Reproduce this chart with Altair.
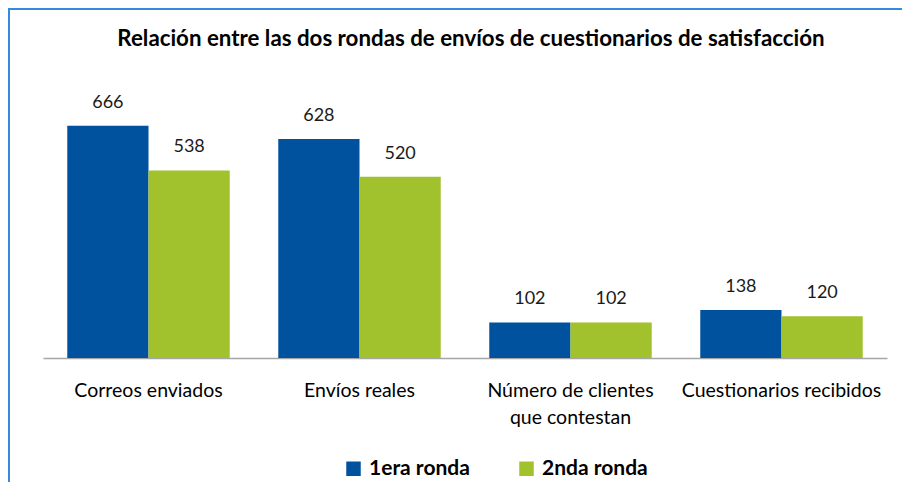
import altair as alt
import pandas as pd

categories = ["Correos enviados", "Envíos reales", "Número de clientes que contestan", "Cuestionarios recibidos"]
series = ["1era ronda", "2nda ronda"]
ronda1 = [666, 628, 102, 138]
ronda2 = [538, 520, 102, 120]
colors = ["#00529F", "#A1C12D"]

rows = []
for c, a, b in zip(categories, ronda1, ronda2):
    rows.append({"cat": c, "serie": series[0], "val": a})
    rows.append({"cat": c, "serie": series[1], "val": b})
df = pd.DataFrame(rows)

W, H = 844, 244
FONT = "Lato"

base = alt.Chart(df).encode(
    x=alt.X("cat:N", sort=categories, title=None,
            scale=alt.Scale(paddingInner=0.23, paddingOuter=0.115),
            axis=alt.Axis(labelAngle=0, ticks=False, domainColor="#A6A6A6", domainWidth=1.5,
                          labelFont=FONT, labelFontSize=19.5, labelColor="#000000",
                          labelPadding=23, labelLineHeight=27, labelLimit=400,
                          labelExpr="datum.label == 'Número de clientes que contestan' ? ['Número de clientes', 'que contestan'] : datum.label")),
    xOffset=alt.XOffset("serie:N", sort=series, scale=alt.Scale(paddingInner=0, paddingOuter=0)),
    y=alt.Y("val:Q", scale=alt.Scale(domain=[0, 700]), axis=None),
)

bars = base.mark_bar().encode(
    color=alt.Color("serie:N", sort=series, scale=alt.Scale(domain=series, range=colors),
                    legend=alt.Legend(title=None, orient="none", direction="horizontal",
                                      legendX=300, legendY=344, padding=0,
                                      symbolType="square", symbolSize=210, symbolStrokeWidth=0,
                                      symbolOpacity=1, labelFont=FONT, labelFontSize=21,
                                      labelFontWeight="bold", labelColor="#000000",
                                      labelOffset=5, columnPadding=46))
)

text = base.mark_text(baseline="alphabetic", dy=-18, font=FONT, fontSize=18, color="#1a1a1a").encode(
    text="val:Q"
)

border = alt.Chart(alt.Data(values=[{}])).mark_rule(color="#3A87E0", strokeWidth=2).encode(
    x=alt.value(-34), y=alt.value(-106), y2=alt.value(H + 130)
)
border_top = alt.Chart(alt.Data(values=[{}])).mark_rule(color="#3A87E0", strokeWidth=2).encode(
    x=alt.value(-35), x2=alt.value(W + 60), y=alt.value(-105)
)

chart = alt.layer(bars, text, border, border_top).properties(
    width=W, height=H,
    title=alt.Title("Relación entre las dos rondas de envíos de cuestionarios de satisfacción",
                    font=FONT, fontSize=22.3, fontWeight="bold", color="#000000",
                    anchor="middle", frame="group", offset=-43, dx=6),
    autosize=alt.AutoSizeParams(type="none"),
    padding={"left": 35, "top": 106, "right": 15, "bottom": 124},
).configure_view(stroke=None)

chart.save("out.html", embed_options={"renderer": "svg", "actions": False})
